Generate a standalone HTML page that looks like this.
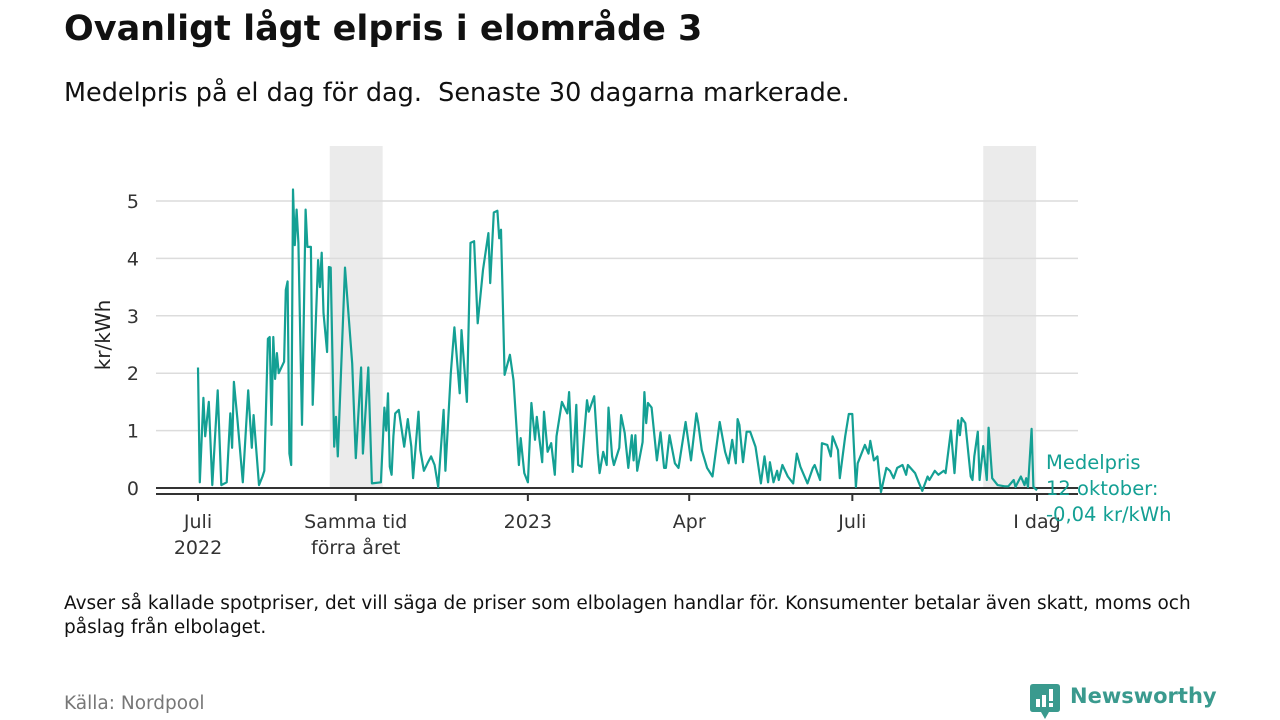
<!DOCTYPE html>
<html><head><meta charset="utf-8"><style>
body{margin:0;background:#fff;font-family:"DejaVu Sans","Liberation Sans",sans-serif;}
#wrap{position:relative;width:1280px;height:720px;overflow:hidden;}
.t{position:absolute;white-space:nowrap;}
</style></head><body>
<div id="wrap">
<div class="t" style="left:64px;top:9px;font-size:35px;font-weight:bold;color:#111;">Ovanligt lågt elpris i elområde 3</div>
<div class="t" style="left:64px;top:78px;font-size:25.5px;color:#111;">Medelpris på el dag för dag.&nbsp; Senaste 30 dagarna markerade.</div>
<svg id="chart" width="1280" height="580" style="position:absolute;left:0;top:0"></svg>
<div class="t" style="left:64px;top:592px;font-size:18.5px;color:#111;line-height:24px;">Avser så kallade spotpriser, det vill säga de priser som elbolagen handlar för. Konsumenter betalar även skatt, moms och<br>påslag från elbolaget.</div>
<div class="t" style="left:64px;top:693px;font-size:18.5px;color:#777;">Källa: Nordpool</div>
<div style="position:absolute;left:1030px;top:684px;">
<svg width="30" height="36"><path d="M0 3 Q0 0 3 0 H27 Q30 0 30 3 V25 Q30 28 27 28 H19 L15 35 L11 28 H3 Q0 28 0 25Z" fill="#3a9a8e"/><rect x="6" y="15" width="4" height="8" fill="#fff"/><rect x="12" y="11" width="4" height="12" fill="#fff"/><rect x="19" y="5" width="4" height="12" fill="#fff"/><rect x="19" y="19" width="4" height="4" fill="#fff"/></svg>
<span class="t" style="left:40px;top:0px;font-size:21px;font-weight:bold;color:#3a9a8e;">Newsworthy</span>
</div>
</div>
<script>
const days=[0,1,3,4,6,8,11,13,16,18,19,20,22,25,28,30,31,34,36,37,39,40,41,42,43,44,45,48,49,50,51,52,53,54,55,56,58,60,61,63,64,67,68,69,70,72,73,74,76,77,78,82,86,88,91,92,95,97,102,104,105,106,107,108,109,110,112,115,117,119,120,123,124,126,128,130,132,134,137,138,141,143,146,147,150,152,154,156,159,162,163,165,167,168,169,171,174,176,179,180,182,184,186,188,189,192,193,195,197,199,200,203,206,207,209,211,212,214,217,218,221,223,224,226,228,229,231,232,235,236,238,240,242,243,244,245,248,249,250,251,253,256,258,260,261,263,266,268,272,275,278,279,281,284,287,291,294,296,298,300,301,302,304,306,308,311,314,316,318,319,321,323,324,326,329,332,334,336,340,343,344,347,348,351,353,354,357,358,361,363,365,367,368,372,374,375,377,379,381,384,386,388,390,393,395,396,400,402,404,407,408,411,413,416,417,420,422,424,425,426,428,431,432,433,435,436,438,440,441,443,446,450,452,455,456,459,461,462,463,465,466,468];
const prices=[2.1,0.1,1.57,0.9,1.5,0.05,1.7,0.05,0.1,1.3,0.7,1.85,1.2,0.1,1.7,0.7,1.27,0.05,0.2,0.3,2.6,2.63,1.1,2.63,1.9,2.35,2.0,2.2,3.45,3.6,0.6,0.4,5.2,4.23,4.85,4.27,1.1,4.85,4.2,4.2,1.45,3.97,3.5,4.1,3.05,2.37,3.85,3.84,0.72,1.24,0.55,3.84,2.17,0.52,2.1,0.6,2.1,0.08,0.1,1.4,1.0,1.65,0.37,0.23,0.9,1.3,1.36,0.72,1.2,0.72,0.17,1.33,0.66,0.3,0.43,0.55,0.4,0.02,1.36,0.3,2.0,2.8,1.65,2.75,1.5,4.27,4.3,2.87,3.8,4.44,3.57,4.8,4.83,4.35,4.5,1.97,2.32,1.88,0.4,0.87,0.26,0.1,1.48,0.84,1.24,0.45,1.33,0.63,0.78,0.23,0.9,1.5,1.3,1.67,0.28,1.45,0.4,0.37,1.53,1.33,1.6,0.6,0.26,0.63,0.4,1.4,0.55,0.4,0.7,1.27,0.96,0.35,0.92,0.48,0.92,0.3,0.8,1.67,1.13,1.48,1.4,0.48,0.97,0.35,0.35,0.92,0.43,0.35,1.15,0.48,1.3,1.13,0.66,0.35,0.2,1.15,0.63,0.43,0.84,0.43,1.2,1.1,0.45,0.98,0.98,0.72,0.08,0.55,0.1,0.45,0.1,0.3,0.14,0.4,0.2,0.08,0.6,0.37,0.08,0.35,0.4,0.14,0.78,0.75,0.55,0.9,0.66,0.17,0.9,1.29,1.29,0.02,0.43,0.75,0.6,0.82,0.48,0.55,-0.07,0.35,0.3,0.17,0.35,0.4,0.23,0.4,0.26,0.1,-0.05,0.2,0.14,0.3,0.23,0.3,0.26,1.0,0.26,1.18,0.92,1.22,1.13,0.2,0.14,0.55,0.98,0.14,0.73,0.14,1.05,0.17,0.05,0.03,0.03,0.14,0.02,0.2,0.05,0.17,0.02,1.03,0.02,-0.04];
const yTicks=[0,1,2,3,4,5];
const xTickDays=[0,88,184,274,365,468];
const xTickLabels=[["Juli","2022"],["Samma tid","förra året"],["2023"],["Apr"],["Juli"],["I dag"]];
const shadedRanges=[[73.5,103],[438,467.5]];

const NS="http://www.w3.org/2000/svg";
const FONT='DejaVu Sans, Liberation Sans, sans-serif';
const svg=document.getElementById('chart');
const X=d=>198+d*(1037-198)/468;
const Y=v=>488-v*57.4;
function mk(t,a,p){const e=document.createElementNS(NS,t);for(const k in a)e.setAttribute(k,a[k]);(p||svg).appendChild(e);return e;}
shadedRanges.forEach(r=>{
 const e=mk('rect',{x:X(r[0]),y:146,width:X(r[1])-X(r[0]),height:342,fill:'#ebebeb'});
 
 
});
yTicks.forEach(v=>{
 const l=mk('line',{x1:156,x2:1078,y1:Y(v),y2:Y(v),stroke:v===0?'#333':'#dcdcdc','stroke-width':v===0?2:1.5});
 
 
 const t=mk('text',{x:139,y:Y(v)+7,'text-anchor':'end','font-size':19,fill:'#333','font-family':FONT});
 t.textContent=v;
 
 
});
const ax=mk('line',{x1:156,x2:1078,y1:494,y2:494,stroke:'#333','stroke-width':2});


xTickDays.forEach((d,i)=>{
 const tk=mk('line',{x1:X(d),x2:X(d),y1:494,y2:501,stroke:'#333','stroke-width':2});
 
 
 xTickLabels[i].forEach((s,j)=>{
  const t=mk('text',{x:X(d),y:528+j*26,'text-anchor':'middle','font-size':19,fill:'#333','font-family':FONT});
  t.textContent=s;
  
  
 });
});
const yt=mk('text',{x:0,y:0,transform:'translate(110,335) rotate(-90)','text-anchor':'middle','font-size':20,fill:'#222','font-family':FONT});
yt.textContent='kr/kWh';


const pts=days.map((d,i)=>X(d).toFixed(1)+','+Y(prices[i]).toFixed(1)).join(' ');
const line=mk('polyline',{points:pts,fill:'none',stroke:'#14a094','stroke-width':2.2,'stroke-linejoin':'round'});


["Medelpris","12 oktober:","-0,04 kr/kWh"].forEach((s,j)=>{
 const t=mk('text',{x:1046,y:469+j*26,'font-size':19.5,fill:'#14a094','font-family':FONT});
 t.textContent=s;
 
 
});
</script>
</body></html>
